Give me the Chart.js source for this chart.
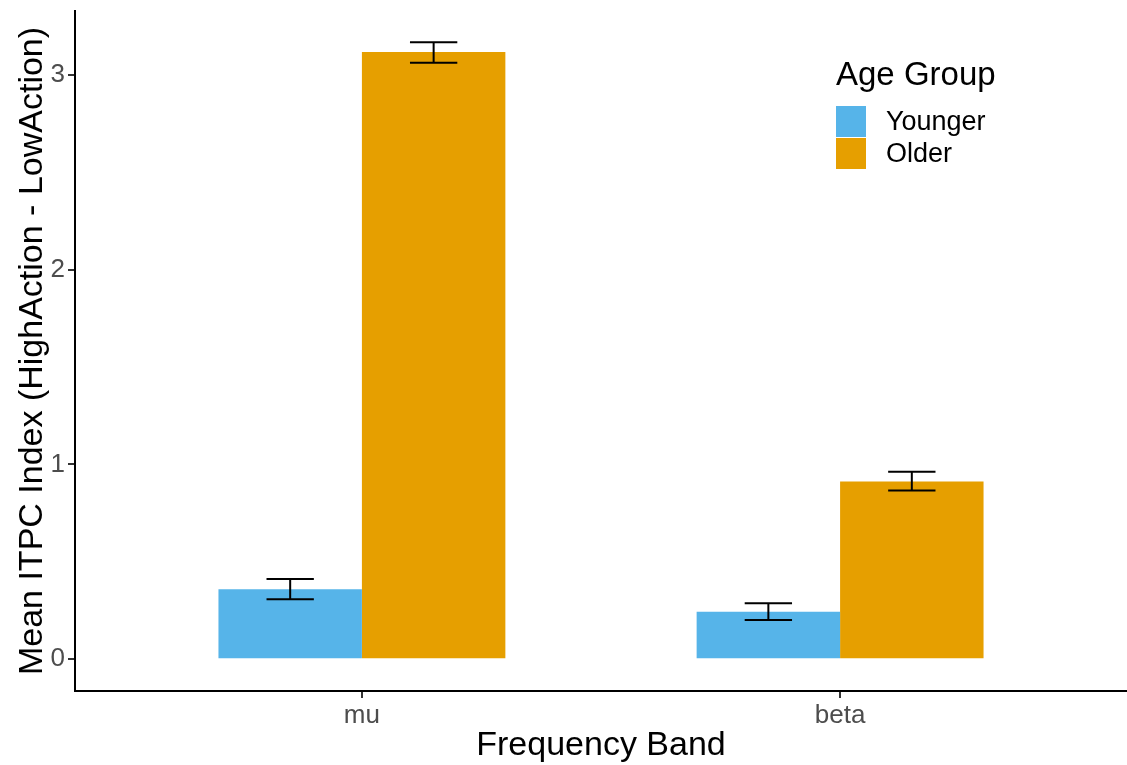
<!DOCTYPE html>
<html><head><meta charset="utf-8">
<script src="https://cdn.jsdelivr.net/npm/chart.js@4.4.0/dist/chart.umd.min.js"></script>
<style>html,body{margin:0;padding:0;background:#fff;} #wrap{width:1127px;height:765px;}</style>
</head><body><div id="wrap"><canvas id="c" width="1127" height="765"></canvas></div>
<script>
const categories = ['mu', 'beta'];
const groups = ['Younger', 'Older'];
const youngerMean = [0.359, 0.244];
const youngerLow  = [0.308, 0.202];
const youngerHigh = [0.412, 0.287];
const olderMean = [3.117, 0.912];
const olderLow  = [3.062, 0.866];
const olderHigh = [3.168, 0.962];
const yTicks = [0, 1, 2, 3];
const colors = ['#56B4E9', '#E69F00'];
const FONT = "'Liberation Sans', Arial, sans-serif";

const lows = [youngerLow, olderLow];
const highs = [youngerHigh, olderHigh];

const errorBars = {
  id: 'errorBars',
  afterDatasetsDraw(chart) {
    const ctx = chart.ctx;
    const ys = chart.scales.y;
    ctx.save();
    ctx.strokeStyle = '#000';
    ctx.lineWidth = 2;
    chart.data.datasets.forEach((ds, di) => {
      const meta = chart.getDatasetMeta(di);
      meta.data.forEach((el, i) => {
        const x = el.x;
        const hw = el.width * 0.165;
        const yl = ys.getPixelForValue(lows[di][i]);
        const yh = ys.getPixelForValue(highs[di][i]);
        ctx.beginPath();
        ctx.moveTo(x - hw, yh); ctx.lineTo(x + hw, yh);
        ctx.moveTo(x - hw, yl); ctx.lineTo(x + hw, yl);
        ctx.moveTo(x, yh); ctx.lineTo(x, yl);
        ctx.stroke();
      });
    });
    ctx.restore();
  }
};

const legendPlugin = {
  id: 'ggLegend',
  afterDraw(chart) {
    const ctx = chart.ctx;
    ctx.save();
    ctx.fillStyle = '#000';
    ctx.font = '33px ' + FONT;
    ctx.textAlign = 'left';
    ctx.textBaseline = 'alphabetic';
    ctx.fillText('Age Group', 836, 85);
    const keyX = 836, keyW = 30, keyH = 31, keyY0 = 106;
    chart.data.datasets.forEach((ds, i) => {
      const ky = keyY0 + i * 32;
      ctx.fillStyle = ds.backgroundColor;
      ctx.fillRect(keyX, ky, keyW, keyH);
      ctx.fillStyle = '#000';
      ctx.font = '27px ' + FONT;
      ctx.textBaseline = 'middle';
      ctx.fillText(ds.label, 886, ky + keyH / 2 + 1);
    });
    ctx.restore();
  }
};

new Chart(document.getElementById('c'), {
  type: 'bar',
  data: {
    datasets: [
      { label: groups[0], data: categories.map((c, i) => ({ x: i + 1, y: youngerMean[i] })), backgroundColor: colors[0], borderWidth: 0 },
      { label: groups[1], data: categories.map((c, i) => ({ x: i + 1, y: olderMean[i] })), backgroundColor: colors[1], borderWidth: 0 }
    ]
  },
  options: {
    responsive: false,
    animation: false,
    devicePixelRatio: 1,
    layout: { padding: { top: 11, right: 0, left: 0, bottom: 0 } },
    datasets: { bar: { categoryPercentage: 0.6, barPercentage: 1.0 } },
    plugins: { legend: { display: false }, tooltip: { enabled: false } },
    scales: {
      x: {
        type: 'linear', min: 0.4, max: 2.6, offset: false,
        afterBuildTicks: s => { s.ticks = categories.map((c, i) => ({ value: i + 1 })); },
        afterFit: s => { s.height = 74; s.paddingLeft = 0; s.paddingRight = 0; },
        grid: { display: true, offset: false, drawOnChartArea: false, drawTicks: true, tickLength: 7, color: '#333', lineWidth: 2 },
        border: { display: true, color: '#000', width: 2 },
        ticks: { callback: v => categories[v - 1] ?? '', font: { family: FONT, size: 26 }, color: '#4D4D4D', padding: 2, maxRotation: 0, autoSkip: false },
        title: { display: true, text: 'Frequency Band', font: { family: FONT, size: 34, lineHeight: 1.1 }, color: '#000', padding: { top: 0, bottom: 0.7 } }
      },
      y: {
        min: -0.163, max: 3.328,
        afterBuildTicks: s => { s.ticks = yTicks.map(v => ({ value: v })); },
        afterFit: s => { s.width = 75; s.paddingTop = 0; s.paddingBottom = 0; },
        grid: { display: true, offset: false, drawOnChartArea: false, drawTicks: true, tickLength: 7, color: '#333', lineWidth: 2 },
        border: { display: true, color: '#000', width: 2 },
        ticks: { font: { family: FONT, size: 26 }, color: '#4D4D4D', padding: 3 },
        title: { display: true, text: 'Mean ITPC Index (HighAction - LowAction)', font: { family: FONT, size: 34 }, color: '#000', padding: { top: 12, bottom: 0 } }
      }
    }
  },
  plugins: [errorBars, legendPlugin]
});
</script>
</body></html>
